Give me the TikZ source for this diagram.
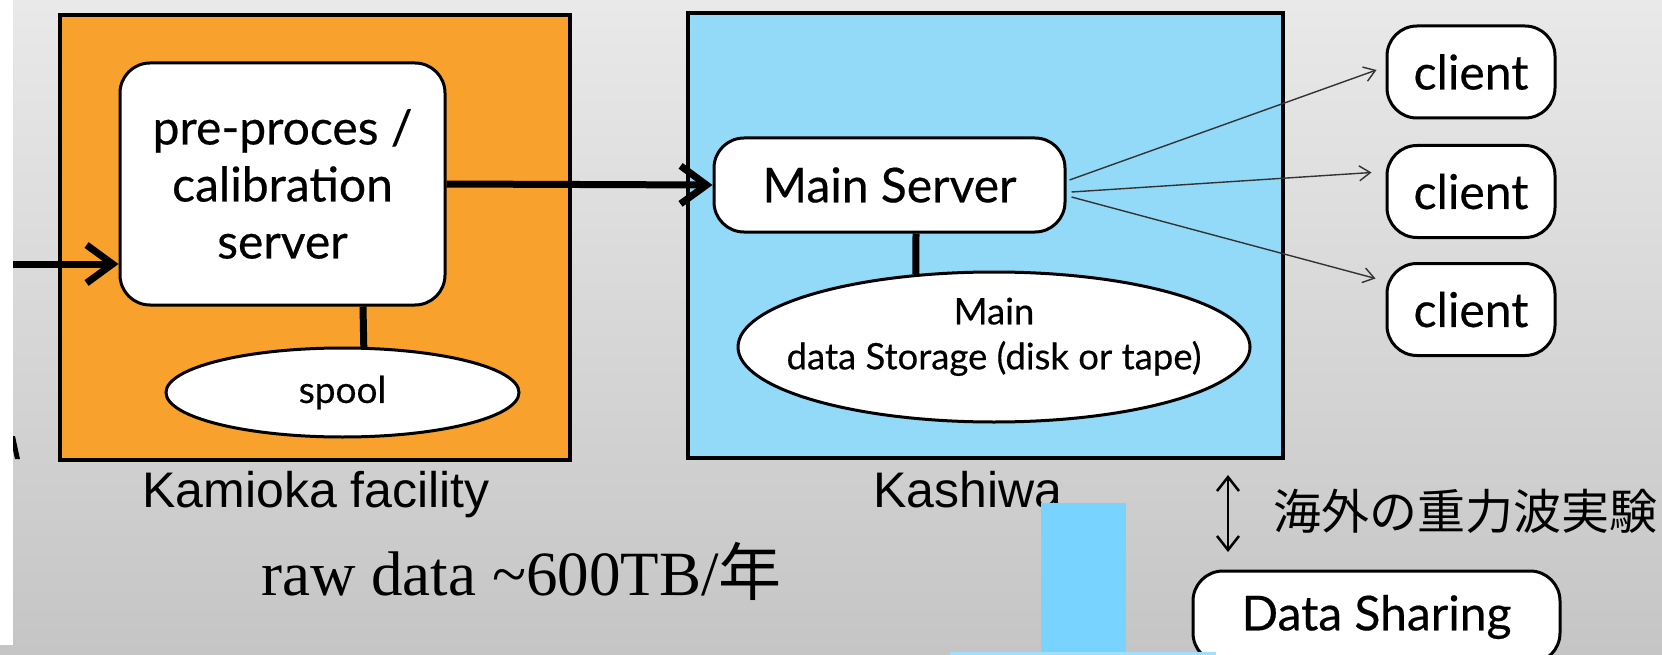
\documentclass[tikz,border=0pt]{standalone}
\usepackage{fontspec}
\setmainfont{Liberation Serif}
\newfontfamily\boxfont[FakeBold=0.4]{Lato}
\newfontfamily\labfont{Liberation Sans}
\newfontfamily\cjk{Noto Sans CJK JP}
\usetikzlibrary{arrows.meta,calc,shapes.geometric}
\definecolor{bgtop}{HTML}{E9E9E9}
\definecolor{bgbot}{HTML}{C5C5C5}
\definecolor{kamorange}{HTML}{F8A12C}
\definecolor{kasblue}{HTML}{93DAF8}
\definecolor{barblue}{HTML}{78D3FF}
\definecolor{inkgray}{HTML}{333333}
\begin{document}
\begin{tikzpicture}[x=1pt,y=-1pt,
  site/.style={draw=black, line width=3.5pt, inner sep=0pt},
  sbox/.style={draw=black, fill=white, line width=3pt, rounded corners=30pt, inner sep=0pt,
    font=\boxfont\fontsize{48}{57}\selectfont, align=center},
  store/.style={ellipse, draw=black, fill=white, line width=3pt, inner sep=0pt, align=center},
  labtext/.style={inner sep=0pt, font=\labfont\fontsize{50}{56}\selectfont},
  bigarrow/.style={line width=7pt, -{Straight Barb[length=26pt,width=38pt]}},
  link/.style={line width=7pt},
  fan/.style={draw=inkgray, line width=1.4pt, -{Straight Barb[length=11pt,width=15pt]}},
  dbl/.style={line width=2.5pt, {Straight Barb[length=14pt,width=22pt]}-{Straight Barb[length=14pt,width=22pt]}}
]
\useasboundingbox (0,0) rectangle (1662,655);
\clip (0,0) rectangle (1662,655);
\shade[top color=bgtop, bottom color=bgbot] (0,0) rectangle (1662,655);
\fill[white] (0,0) rectangle (13,645);
\fill[black] (13,436) -- (15,436) -- (20,459) -- (15,459) -- (13,450) -- cycle;

% sites
\node[site, fill=kamorange, minimum width=510, minimum height=445] (kam) at (315,237.5) {};
\node[site, fill=kasblue, minimum width=595, minimum height=445] (kas) at (985.5,235.5) {};

% servers and storage
\node[sbox, minimum width=325, minimum height=242] (pp) at (282.5,184) {pre-proces /\\calibration\\server};
\node[store, minimum width=353, minimum height=89, font=\boxfont\fontsize{37}{40}\selectfont] (sp) at (342.5,392.5) {spool};
\node[sbox, minimum width=351, minimum height=94] (ms) at (889.5,185) {Main Server};
\node[store, minimum width=512, minimum height=150, inner xsep=-40pt, text depth=27pt,
  font=\boxfont\fontsize{36.5}{45}\selectfont] (st) at (994,347) {Main\\data Storage (disk or tape)};

% clients
\node[sbox, minimum width=168, minimum height=92] (c1) at (1471,72) {client};
\node[sbox, minimum width=168, minimum height=92] (c2) at (1471,191.5) {client};
\node[sbox, minimum width=168, minimum height=92] (c3) at (1471,309.5) {client};
\node[sbox, minimum width=367, minimum height=92] (ds) at (1376.5,617) {Data Sharing};

% labels
\node[labtext, anchor=base] (lkam) at (316,507) {Kamioka facility};
\node[labtext, anchor=base] (lkas) at (968,507) {Kashiwa};
\node[anchor=base west, inner sep=0pt, font=\fontsize{63}{70}\selectfont] (raw) at (261,595) {raw data \textasciitilde600TB/{\cjk 年}};
\node[anchor=base west, inner sep=0pt, font=\cjk\fontsize{48}{52}\selectfont] (jp) at (1273,529) {海外の重力波実験};

% overlay bar
\fill[barblue] (1041,503) rectangle (1126,655);
\fill[barblue!70!white] (950,652) rectangle (1216,655);

% connectors
\coordinate (inL) at (13,264);
\coordinate (sx) at (363,0);
\coordinate (mx) at (916,0);
\draw[bigarrow] (inL) -- (inL -| pp.west);
\draw[bigarrow] (pp.east) -- (ms.west);
\draw[link] (pp.south -| sx) -- (sp.65.1);
\draw[link] (ms.south -| mx) -- (st.137.5);
\draw[fan] ($(ms.east)+(3,-5)$) -- ($(c1.west)+(-9,-2)$);
\draw[fan] ($(ms.east)+(5,7)$) -- ($(c2.west)+(-14,-19)$);
\draw[fan] ($(ms.east)+(5,12)$) -- ($(c3.west)+(-10,-31)$);
\coordinate (da1) at (1228,475);
\coordinate (da2) at (1228,552);
\draw[dbl] (da1) -- (da2);
\end{tikzpicture}
\end{document}
